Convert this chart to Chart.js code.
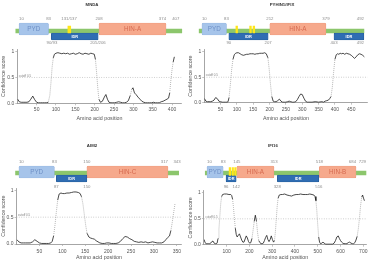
<!DOCTYPE html>
<html><head><meta charset="utf-8">
<script src="https://cdn.jsdelivr.net/npm/chart.js@4.4.1/dist/chart.umd.min.js"></script>
<style>
html,body{margin:0;padding:0;background:#fff}
body{width:370px;height:263px;position:relative;overflow:hidden}
canvas{position:absolute}
</style></head><body>
<canvas id="pMNDA" width="185" height="78" style="left:0;top:44px"></canvas>
<canvas id="pPYHIN" width="183" height="78" style="left:187px;top:44px"></canvas>
<canvas id="pAIM2" width="185" height="80" style="left:0;top:183px"></canvas>
<canvas id="pIFI16" width="183" height="80" style="left:187px;top:183px"></canvas>
<canvas id="dMNDA" width="185" height="48" style="left:0;top:0"></canvas>
<canvas id="dPYHIN" width="183" height="48" style="left:187px;top:0"></canvas>
<canvas id="dAIM2" width="185" height="50" style="left:0;top:141px"></canvas>
<canvas id="dIFI16" width="183" height="50" style="left:187px;top:141px"></canvas>
<script>
// ================= DATA =================
// --- MNDA ---
const mndaTitle = 'MNDA';
const mndaLength = 407;
const mndaBackbone = [2, 413];
const mndaDomNames = ['PYD', 'HIN-A'];
const mndaDomStart = [10, 208];
const mndaDomEnd = [83, 374];
const mndaIdrStart = [90];
const mndaIdrEnd = [206];
const mndaMarkStart = [131];
const mndaMarkEnd = [138];
const mndaTopLabels = ['10', '83', '131/137', '208', '374', '407'];
const mndaIdrLabels = ['90/93', '205/206'];
const mndaPos = [1,5,10,15,20,25,30,35,40,45,50,55,60,65,70,75,80,84,87,90,93,96,100,105,110,115,120,125,130,135,140,145,150,155,160,165,170,175,180,185,190,195,199,202,205,208,211,215,220,225,229,233,237,242,247,252,257,262,267,272,277,282,287,292,296,299,303,307,312,317,322,327,332,337,342,347,352,357,362,367,372,377,382,387,391,394,397,400,403,406];
const mndaScore = [.08,.03,.02,.02,.02,.02,.03,.08,.14,.07,.02,.01,.01,.01,.01,.01,.02,.15,.4,.7,.88,.95,.97,.98,.97,.96,.97,.96,.97,.95,.96,.97,.95,.96,.98,.96,.95,.97,.96,.95,.97,.96,.95,.85,.6,.3,.08,.02,.04,.12,.17,.08,.02,.01,.01,.01,.02,.03,.02,.01,.01,.02,.05,.15,.27,.3,.2,.17,.12,.08,.04,.02,.01,.01,.01,.01,.02,.01,.01,.01,.03,.04,.06,.08,.1,.2,.45,.65,.8,.9];
const mndaTicksX = [50,100,150,200,250,300,350,400];

// --- PYHIN1/IFIX ---
const pyhinTitle = 'PYHIN1/IFIX';
const pyhinLength = 492;
const pyhinBackbone = [1, 492];
const pyhinDomNames = ['PYD', 'HIN-A'];
const pyhinDomStart = [10, 212];
const pyhinDomEnd = [83, 379];
const pyhinIdrStart = [90, 403];
const pyhinIdrEnd = [207, 492];
const pyhinMarkStart = [111, 152, 162];
const pyhinMarkEnd = [116, 157, 167];
const pyhinTopLabels = ['10', '83', '212', '379', '492'];
const pyhinIdrLabels = ['90', '207', '403', '492'];
const pyhinPos = [1,5,10,15,20,25,30,35,40,45,50,55,60,65,70,73,76,80,84,88,92,96,100,105,110,115,120,125,130,135,140,145,150,155,160,165,170,175,180,185,190,195,199,203,207,211,215,220,225,230,235,240,245,250,255,260,265,270,275,280,285,290,295,300,305,310,315,320,330,340,350,360,365,370,375,380,384,388,392,396,400,404,408,412,416,420,425,430,435,440,445,450,455,460,465,470,475,480,485,490];
const pyhinScore = [.08,.03,.02,.02,.02,.03,.05,.1,.08,.03,.02,.01,.01,.01,.01,.02,.1,.35,.65,.85,.94,.97,.98,.98,.96,.94,.93,.94,.95,.95,.96,.96,.96,.95,.96,.96,.97,.97,.97,.98,.96,.88,.65,.35,.12,.03,.02,.02,.04,.07,.03,.01,.01,.01,.02,.03,.02,.01,.01,.02,.06,.12,.17,.16,.09,.03,.01,.01,.01,.02,.01,.02,.01,.03,.04,.05,.08,.12,.3,.6,.85,.94,.96,.95,.97,.96,.97,.95,.97,.96,.95,.93,.9,.87,.9,.94,.96,.95,.93,.9];
const pyhinTicksX = [50,100,150,200,250,300,350,400,450];

// --- AIM2 ---
const aim2Title = 'AIM2';
const aim2Length = 343;
const aim2Backbone = [3, 339];
const aim2DomNames = ['PYD', 'HIN-C'];
const aim2DomStart = [10, 150];
const aim2DomEnd = [83, 317];
const aim2IdrStart = [87];
const aim2IdrEnd = [150];
const aim2MarkStart = [];
const aim2MarkEnd = [];
const aim2TopLabels = ['10', '83', '150', '317', '343'];
const aim2IdrLabels = ['87', '150'];
const aim2Pos = [1,5,10,15,20,25,30,35,40,45,50,55,60,65,70,75,78,81,84,87,90,93,97,101,105,110,115,120,125,130,135,139,142,145,148,151,154,158,162,166,170,174,178,182,187,192,197,202,207,212,217,222,227,232,237,242,247,252,257,262,267,272,277,282,287,292,297,302,307,312,317,322,326,330,334,337,340,343,346];
const aim2Score = [.08,.04,.02,.02,.02,.02,.02,.04,.08,.05,.02,.01,.01,.01,.01,.02,.05,.15,.35,.6,.82,.93,.95,.94,.94,.95,.95,.96,.97,.97,.96,.94,.88,.75,.55,.35,.2,.13,.11,.1,.09,.06,.04,.02,.01,.01,.02,.02,.01,.01,.01,.02,.05,.1,.14,.13,.1,.08,.05,.04,.03,.04,.03,.04,.02,.03,.04,.03,.02,.02,.02,.04,.08,.12,.15,.25,.4,.58,.75];
const aim2TicksX = [50,100,150,200,250,300,350];

// --- IFI16 ---
const ifi16Title = 'IFI16';
const ifi16Length = 729;
const ifi16Backbone = [1, 729];
const ifi16DomNames = ['PYD', 'HIN-A', 'HIN-B'];
const ifi16DomStart = [10, 145, 518];
const ifi16DomEnd = [83, 313, 684];
const ifi16IdrStart = [96, 328];
const ifi16IdrEnd = [142, 516];
const ifi16MarkStart = [110, 123, 135];
const ifi16MarkEnd = [117, 130, 142];
const ifi16TopLabels = ['10', '83', '145', '313', '518', '684', '729'];
const ifi16IdrLabels = ['96', '142', '328', '516'];
const ifi16Pos = [1,5,10,15,20,25,30,35,40,45,50,54,58,62,66,70,74,78,82,90,100,110,118,122,126,130,134,138,142,146,151,156,161,166,171,176,181,186,191,196,201,206,211,216,221,226,231,236,241,246,251,256,261,266,271,276,281,286,291,296,301,306,310,314,318,322,326,331,338,345,355,365,375,385,395,405,415,425,435,445,455,465,475,483,488,492,496,500,504,508,512,518,523,528,535,545,555,565,572,578,584,590,595,600,605,610,615,622,628,634,640,646,652,658,663,668,673,678,683,688,693,697,701,705];
const ifi16Score = [.1,.04,.02,.02,.02,.02,.03,.06,.07,.03,.02,.02,.03,.12,.3,.55,.8,.93,.97,.98,.98,.97,.97,.95,.88,.72,.5,.32,.2,.15,.18,.21,.15,.09,.05,.05,.11,.17,.13,.06,.03,.04,.12,.28,.45,.57,.45,.22,.08,.04,.02,.02,.03,.08,.14,.18,.1,.06,.1,.17,.1,.05,.08,.25,.5,.75,.9,.96,.97,.97,.98,.96,.95,.94,.96,.97,.97,.98,.97,.97,.97,.98,.97,.96,.93,.85,.65,.38,.15,.05,.02,.03,.05,.03,.01,.01,.01,.01,.03,.08,.15,.17,.12,.08,.05,.03,.02,.02,.02,.04,.05,.03,.02,.02,.04,.09,.16,.3,.5,.75,.92,.96,.9,.85];
const ifi16TicksX = [100,200,300,400,500,600,700];

const yTicks = [0, 0.5, 1];
const cutoff = 0.5;

// ================= STYLE / DRAWING =================
const FONT = "'Liberation Sans', Arial, Helvetica, sans-serif";
Chart.defaults.font.family = FONT;
const GREEN = '#8cc66c', PYD_FILL = '#a6c4ea', PYD_BORDER = '#93b4df', PYD_TEXT = '#6f90c6';
const HIN_FILL = '#f6a98c', HIN_BORDER = '#eb9678', HIN_TEXT = '#d66a50';
const IDR_FILL = '#2f6db3', IDR_BORDER = '#23558e', YELLOW = '#ffe619';

function meanOf(label) { const n = label.split('/').map(Number); return n.reduce((a, b) => a + b, 0) / n.length; }

function drawDiagram(id, P, L) {
  const mk = (s, e, yc, th, bg, bd, order, r) => ({
    data: [{x: [s, e], y: yc}], backgroundColor: bg, borderColor: bd || bg,
    borderWidth: bd ? 0.6 : 0, barThickness: th, order: order, stack: 'one',
    borderRadius: r || 0, borderSkipped: false
  });
  const ds = [mk(P.backbone[0], P.backbone[1], L.yLine, 4, GREEN, null, 9)];
  P.domNames.forEach((n, i) => {
    const pyd = n.startsWith('PYD');
    ds.push(mk(P.domStart[i], P.domEnd[i], L.yBox, 12, pyd ? PYD_FILL : HIN_FILL, pyd ? PYD_BORDER : HIN_BORDER, 5, 1.5));
  });
  P.idrStart.forEach((s, i) => ds.push(mk(s, P.idrEnd[i], L.yIdr, 7, IDR_FILL, IDR_BORDER, 3, 1)));
  P.markStart.forEach((s, i) => ds.push(mk(s, P.markEnd[i], L.yMark, L.markH, YELLOW, null, 1)));
  const textPlugin = {
    id: 'diagramText',
    afterDatasetsDraw(chart) {
      const ctx = chart.ctx, x = chart.scales.x, y = chart.scales.y;
      ctx.save();
      ctx.textBaseline = 'middle';
      ctx.textAlign = 'center';
      ctx.fillStyle = '#333';
      ctx.font = 'bold 4.3px ' + FONT;
      ctx.fillText(P.title, L.titleX, 5);
      ctx.font = '6.3px ' + FONT;
      P.domNames.forEach((n, i) => {
        ctx.fillStyle = n.startsWith('PYD') ? PYD_TEXT : HIN_TEXT;
        ctx.fillText(n, x.getPixelForValue((P.domStart[i] + P.domEnd[i]) / 2), y.getPixelForValue(L.yBox) + 0.3);
      });
      ctx.font = 'bold 3.9px ' + FONT;
      ctx.fillStyle = '#ffffff';
      P.idrStart.forEach((s, i) => ctx.fillText('IDR', x.getPixelForValue((s + P.idrEnd[i]) / 2), y.getPixelForValue(L.yIdr) + 0.2));
      ctx.font = '4.3px ' + FONT;
      ctx.fillStyle = '#8c8c8c';
      // top numbers: first left-aligned, last right-aligned, crowded ones right-aligned
      const items = P.topLabels.map((t, i, arr) => ({t: t, px: x.getPixelForValue(meanOf(t)), w: ctx.measureText(t).width,
        align: i === 0 ? 'left' : (i === arr.length - 1 ? 'right' : 'center')}));
      const ext = it => it.align === 'left' ? [it.px, it.px + it.w] : (it.align === 'right' ? [it.px - it.w, it.px] : [it.px - it.w / 2, it.px + it.w / 2]);
      for (let i = items.length - 2; i > 0; i--) {
        if (ext(items[i + 1])[0] - ext(items[i])[1] < 5) items[i].align = 'right';
      }
      items.forEach(it => { ctx.textAlign = it.align; ctx.fillText(it.t, it.px, y.getPixelForValue(L.yNum)); });
      P.idrLabels.forEach(t => {
        const v = meanOf(t);
        ctx.textAlign = v >= P.length ? 'right' : 'center';
        ctx.fillText(t, x.getPixelForValue(v), y.getPixelForValue(L.yBot));
      });
      ctx.restore();
    }
  };
  new Chart(document.getElementById(id), {
    type: 'bar',
    data: {datasets: ds},
    options: {
      indexAxis: 'y', responsive: false, animation: false, events: [],
      layout: {padding: {left: L.padL, right: L.padR, top: 12, bottom: 0}},
      scales: {
        x: {type: 'linear', min: 0, max: L.max, display: false, stacked: false},
        y: {type: 'linear', min: 0, max: L.yMax, reverse: true, display: false, offset: false, stacked: true}
      },
      plugins: {legend: {display: false}, tooltip: {enabled: false}, title: {display: false}}
    },
    plugins: [textPlugin]
  });
}

function drawProfile(id, pos, score, ticksX, L) {
  const pts = pos.map((x, i) => ({x: x, y: score[i]}));
  const steep = c => Math.abs(c.p1.parsed.y - c.p0.parsed.y) > 0.12;
  const axisGrid = {display: true, drawOnChartArea: false, drawTicks: true, tickLength: 2, color: '#9a9a9a', lineWidth: 0.6};
  const axisBorder = {display: true, color: '#8f8f8f', width: 0.8};
  const cutoffLabel = {
    id: 'cutoffLabel',
    afterDatasetsDraw(chart) {
      const ctx = chart.ctx;
      ctx.save();
      ctx.font = '3px ' + FONT;
      ctx.fillStyle = '#808080';
      ctx.textAlign = 'left';
      ctx.textBaseline = 'bottom';
      ctx.fillText('cutoff 0.5', chart.chartArea.left + 1.5, chart.scales.y.getPixelForValue(cutoff) - 0.3);
      ctx.restore();
    }
  };
  new Chart(document.getElementById(id), {
    type: 'line',
    data: {datasets: [
      {data: pts, borderColor: '#1c1c1c', borderWidth: 0.8, pointRadius: 0, tension: 0,
       segment: {borderColor: c => steep(c) ? '#8e8e8e' : undefined, borderDash: c => steep(c) ? [0.8, 1.2] : undefined}},
      {data: [{x: 0, y: cutoff}, {x: L.xMax, y: cutoff}], borderColor: '#ababab', borderWidth: 0.7, borderDash: [0.8, 1.6], pointRadius: 0}
    ]},
    options: {
      responsive: false, animation: false, events: [],
      layout: {padding: {left: 0, right: L.padR, top: L.padT, bottom: L.padB}},
      scales: {
        x: {type: 'linear', min: 0, max: L.xMax,
            afterBuildTicks: s => { s.ticks = ticksX.map(v => ({value: v})); },
            afterFit: s => { s.height = L.xH; },
            ticks: {font: {size: 5}, color: '#555', padding: L.tp, maxRotation: 0, autoSkip: false},
            grid: axisGrid, border: axisBorder,
            title: {display: true, text: 'Amino acid position', color: '#555', font: {size: 5.3}, padding: 0}},
        y: {type: 'linear', min: 0, max: 1.04,
            afterBuildTicks: s => { s.ticks = yTicks.map(v => ({value: v})); },
            afterFit: s => { s.width = L.yW; },
            ticks: {font: {size: 5}, color: '#555', padding: 1, callback: v => v === 1 ? '1' : Number(v).toFixed(1)},
            grid: axisGrid, border: axisBorder,
            title: {display: true, text: 'Confidence score', color: '#555', font: {size: 5.3}, padding: 0}}
      },
      plugins: {legend: {display: false}, tooltip: {enabled: false}}
    },
    plugins: [cutoffLabel]
  });
}

const row1 = {yMax: 36, yNum: 7, yBox: 17, yLine: 19, yIdr: 24.5, yMark: 17.5, markH: 7, yBot: 31};
const row2 = {yMax: 38, yNum: 9, yBox: 19, yLine: 20, yIdr: 25.5, yMark: 18.5, markH: 8, yBot: 34};

drawDiagram('dMNDA', {title: mndaTitle, length: mndaLength, backbone: mndaBackbone, domNames: mndaDomNames, domStart: mndaDomStart, domEnd: mndaDomEnd,
  idrStart: mndaIdrStart, idrEnd: mndaIdrEnd, markStart: mndaMarkStart, markEnd: mndaMarkEnd, topLabels: mndaTopLabels, idrLabels: mndaIdrLabels},
  Object.assign({padL: 15, padR: 0.4, max: 420, titleX: 92}, row1));
drawDiagram('dPYHIN', {title: pyhinTitle, length: pyhinLength, backbone: pyhinBackbone, domNames: pyhinDomNames, domStart: pyhinDomStart, domEnd: pyhinDomEnd,
  idrStart: pyhinIdrStart, idrEnd: pyhinIdrEnd, markStart: pyhinMarkStart, markEnd: pyhinMarkEnd, topLabels: pyhinTopLabels, idrLabels: pyhinIdrLabels},
  Object.assign({padL: 11.6, padR: 3.4, max: 500, titleX: 95}, row1));
drawDiagram('dAIM2', {title: aim2Title, length: aim2Length, backbone: aim2Backbone, domNames: aim2DomNames, domStart: aim2DomStart, domEnd: aim2DomEnd,
  idrStart: aim2IdrStart, idrEnd: aim2IdrEnd, markStart: aim2MarkStart, markEnd: aim2MarkEnd, topLabels: aim2TopLabels, idrLabels: aim2IdrLabels},
  Object.assign({padL: 14.1, padR: 1, max: 350, titleX: 92}, row2));
drawDiagram('dIFI16', {title: ifi16Title, length: ifi16Length, backbone: ifi16Backbone, domNames: ifi16DomNames, domStart: ifi16DomStart, domEnd: ifi16DomEnd,
  idrStart: ifi16IdrStart, idrEnd: ifi16IdrEnd, markStart: ifi16MarkStart, markEnd: ifi16MarkEnd, topLabels: ifi16TopLabels, idrLabels: ifi16IdrLabels},
  Object.assign({padL: 17.8, padR: 1.6, max: 740, titleX: 86}, row2));

drawProfile('pMNDA', mndaPos, mndaScore, mndaTicksX, {xMax: 425, yW: 17.3, padR: 3.3, padT: 5.6, padB: 0, xH: 18.7, tp: 1.7});
drawProfile('pPYHIN', pyhinPos, pyhinScore, pyhinTicksX, {xMax: 500, yW: 17.2, padR: 2.4, padT: 5.7, padB: 0, xH: 19.3, tp: 2.2});
drawProfile('pAIM2', aim2Pos, aim2Score, aim2TicksX, {xMax: 360, yW: 16.5, padR: 3.6, padT: 5.2, padB: 1.8, xH: 17.2, tp: 2.3});
drawProfile('pIFI16', ifi16Pos, ifi16Score, ifi16TicksX, {xMax: 715, yW: 16.9, padR: 3.3, padT: 7.9, padB: 1.8, xH: 16.5, tp: 2.3});
</script>
</body></html>
